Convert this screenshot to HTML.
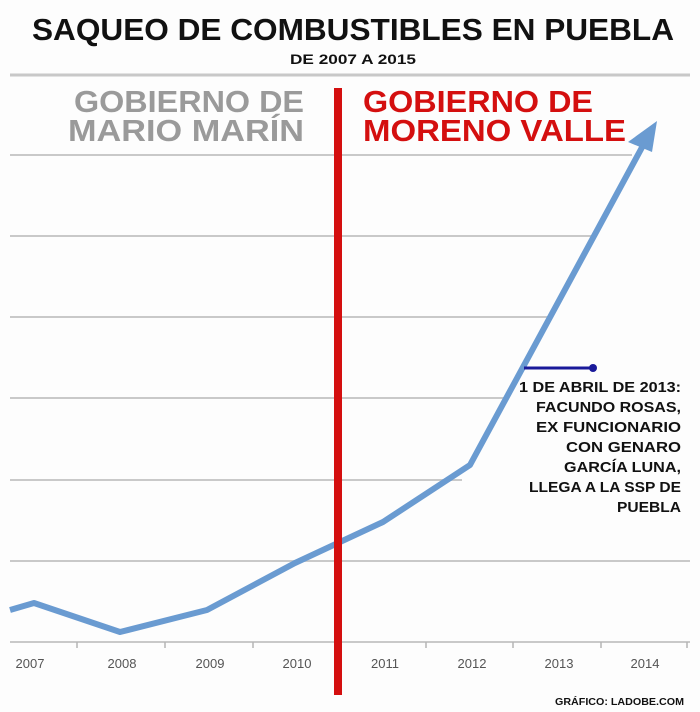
<!DOCTYPE html>
<html><head><meta charset="utf-8"><style>
html,body{margin:0;padding:0;background:#fff}
svg{display:block}
text{font-family:"Liberation Sans",sans-serif;font-weight:bold}
</style></head><body>
<svg width="700" height="712" viewBox="0 0 700 712" xmlns="http://www.w3.org/2000/svg">
<rect width="700" height="712" fill="#fdfdfd"/>
<text x="353" y="40" text-anchor="middle" font-size="31" fill="#111" textLength="642" lengthAdjust="spacingAndGlyphs">SAQUEO DE COMBUSTIBLES EN PUEBLA</text>
<text x="353" y="64" text-anchor="middle" font-size="14" fill="#111" textLength="126" lengthAdjust="spacingAndGlyphs">DE 2007 A 2015</text>
<line x1="10" y1="75" x2="690" y2="75" stroke="#c8c8c8" stroke-width="3"/>
<g stroke="#c9c9c9" stroke-width="2">
<line x1="10" y1="155" x2="632" y2="155"/>
<line x1="10" y1="236" x2="592" y2="236"/>
<line x1="10" y1="317" x2="548" y2="317"/>
<line x1="10" y1="398" x2="505" y2="398"/>
<line x1="10" y1="480" x2="462" y2="480"/>
<line x1="10" y1="561" x2="690" y2="561"/>
<line x1="10" y1="642" x2="690" y2="642"/>
</g>
<g stroke="#b5b5b5" stroke-width="1.5">
<line x1="77" y1="642" x2="77" y2="648"/><line x1="165" y1="642" x2="165" y2="648"/>
<line x1="253" y1="642" x2="253" y2="648"/><line x1="426" y1="642" x2="426" y2="648"/>
<line x1="513" y1="642" x2="513" y2="648"/><line x1="601" y1="642" x2="601" y2="648"/>
<line x1="687" y1="642" x2="687" y2="648"/>
</g>
<g font-size="13" fill="#555" text-anchor="middle" style="font-weight:normal">
<text x="30" y="668" style="font-weight:normal">2007</text><text x="122" y="668" style="font-weight:normal">2008</text>
<text x="210" y="668" style="font-weight:normal">2009</text><text x="297" y="668" style="font-weight:normal">2010</text>
<text x="385" y="668" style="font-weight:normal">2011</text><text x="472" y="668" style="font-weight:normal">2012</text>
<text x="559" y="668" style="font-weight:normal">2013</text><text x="645" y="668" style="font-weight:normal">2014</text>
</g>
<polyline points="10,610 34,603 120,632 207,610 295,563 383,522 470,465 646,140" fill="none" stroke="#6a9bd1" stroke-width="6" stroke-linejoin="round"/>
<polygon points="657,121 628,142 652,152" fill="#6a9bd1"/>
<line x1="524" y1="368" x2="592" y2="368" stroke="#1a1a9a" stroke-width="3"/>
<circle cx="593" cy="368" r="4" fill="#1a1a9a"/>
<rect x="334" y="88" width="8" height="607" fill="#d40f0f"/>
<text x="304" y="112" text-anchor="end" font-size="31" fill="#9a9a9a" textLength="230" lengthAdjust="spacingAndGlyphs">GOBIERNO DE</text>
<text x="304" y="141" text-anchor="end" font-size="31" fill="#9a9a9a" textLength="236" lengthAdjust="spacingAndGlyphs">MARIO MARÍN</text>
<text x="363" y="112" font-size="31" fill="#d40f0f" textLength="230" lengthAdjust="spacingAndGlyphs">GOBIERNO DE</text>
<text x="363" y="141" font-size="31" fill="#d40f0f" textLength="263" lengthAdjust="spacingAndGlyphs">MORENO VALLE</text>
<g font-size="15" fill="#111" text-anchor="end">
<text x="681" y="392" textLength="162" lengthAdjust="spacingAndGlyphs">1 DE ABRIL DE 2013:</text>
<text x="681" y="412" textLength="145" lengthAdjust="spacingAndGlyphs">FACUNDO ROSAS,</text>
<text x="681" y="432" textLength="145" lengthAdjust="spacingAndGlyphs">EX FUNCIONARIO</text>
<text x="681" y="452" textLength="115" lengthAdjust="spacingAndGlyphs">CON GENARO</text>
<text x="681" y="472" textLength="117" lengthAdjust="spacingAndGlyphs">GARCÍA LUNA,</text>
<text x="681" y="492" textLength="152" lengthAdjust="spacingAndGlyphs">LLEGA A LA SSP DE</text>
<text x="681" y="512" textLength="64" lengthAdjust="spacingAndGlyphs">PUEBLA</text>
</g>
<text x="684" y="705" text-anchor="end" font-size="10" fill="#111" textLength="129" lengthAdjust="spacingAndGlyphs">GRÁFICO: LADOBE.COM</text>
</svg>
</body></html>
